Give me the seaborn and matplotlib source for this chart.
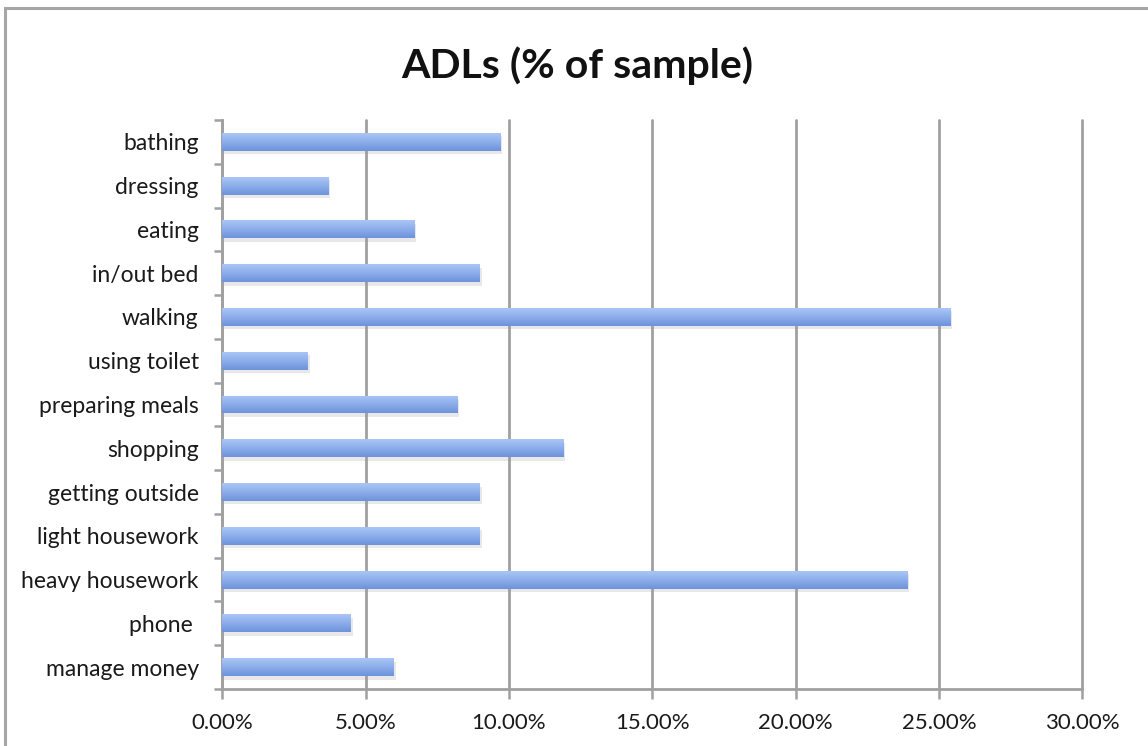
import numpy as np
import pandas as pd
import matplotlib
matplotlib.use("Agg")
import matplotlib.pyplot as plt
import seaborn as sns
from matplotlib.patches import Rectangle
from matplotlib.colors import LinearSegmentedColormap
from matplotlib.ticker import FixedLocator, FuncFormatter
import matplotlib.patheffects as pe

# Activities of daily living, share of sample (%)
activities = ["bathing", "dressing", "eating", "in/out bed", "walking",
              "using toilet", "preparing meals", "shopping", "getting outside",
              "light housework", "heavy housework", "phone ", "manage money"]
pct_of_sample = [9.7, 3.7, 6.7, 9.0, 25.4, 3.0, 8.2, 11.9, 9.0, 9.0, 23.9, 4.5, 6.0]
x_ticks = [0, 5, 10, 15, 20, 25, 30]

df = pd.DataFrame({"activity": activities, "pct": pct_of_sample})

sns.set_theme(style="white")
plt.rcParams["font.family"] = ["Lato", "DejaVu Sans"]

W, H = 1148, 746
fig = plt.figure(figsize=(W / 100, H / 100), dpi=100)
fig.patch.set_facecolor("white")

# outer frame of the chart area
fig.add_artist(Rectangle((5 / W, -0.05), 1.2, (H - 8) / H + 0.05,
                         transform=fig.transFigure, fill=False,
                         edgecolor="#a6a6a6", linewidth=2.2, zorder=0))

ax = fig.add_axes([222.3 / W, 1 - 689 / H, (1082.3 - 222.3) / W, (689 - 120) / H])

sns.barplot(data=df, y="activity", x="pct", orient="h", ax=ax,
            color="#8aabe8", width=0.41, saturation=1, zorder=3, linewidth=0)

# light-to-dark vertical gradient on each bar (light on top), plus a soft drop shadow
grad_cmap = LinearSegmentedColormap.from_list("bar", ["#aac6f6", "#8cadea", "#6d93dc"])
grad = np.linspace(0, 1, 64).reshape(-1, 1)
for patch in list(ax.patches):
    x0, y0 = patch.get_x(), patch.get_y()
    w, h = patch.get_width(), patch.get_height()
    patch.set_path_effects([pe.SimplePatchShadow(offset=(1.0, -2.5), shadow_rgbFace="#9a9a9a",
                                                 alpha=0.22), pe.Normal()])
    # origin="lower": row 0 sits at y0, which is the upper edge on this inverted axis
    im = ax.imshow(grad, cmap=grad_cmap, aspect="auto", origin="lower",
                   extent=(x0, x0 + w, y0, y0 + h), zorder=4, interpolation="bicubic")
    im.set_clip_path(patch)

ax.set_xlim(0, 30)
ax.set_ylim(len(activities) - 0.5, -0.5)

ax.xaxis.set_major_locator(FixedLocator(x_ticks))
ax.xaxis.set_major_formatter(FuncFormatter(lambda v, _: f"{v:.2f}%"))
ax.grid(axis="x", color="#a0a0a0", linewidth=2.0, zorder=1)
ax.grid(axis="y", visible=False)
for gl in ax.get_xgridlines():
    gl.set_clip_on(False)

# category boundaries as minor ticks on the y axis
ax.set_yticks(np.arange(-0.5, len(activities)), minor=True)
ax.tick_params(axis="y", which="minor", length=6, width=1.8, color="#a0a0a0", left=True)
ax.tick_params(axis="y", which="major", length=0, pad=17, labelsize=16.5, labelcolor="#1a1a1a")
ax.tick_params(axis="x", which="major", length=7, width=1.8, color="#a0a0a0", bottom=True,
               pad=10, labelsize=16, labelcolor="#1a1a1a")

for side in ["top", "right"]:
    ax.spines[side].set_visible(False)
for side in ["left", "bottom"]:
    ax.spines[side].set_color("#a0a0a0")
    ax.spines[side].set_linewidth(2.0)

ax.set_xlabel("")
ax.set_ylabel("")

fig.text(577 / W, 1 - 66 / H, "ADLs (% of sample)", ha="center", va="center",
         fontsize=29.5, fontweight="bold", color="#111111")

fig.savefig("out.png", dpi=100, facecolor="white")
